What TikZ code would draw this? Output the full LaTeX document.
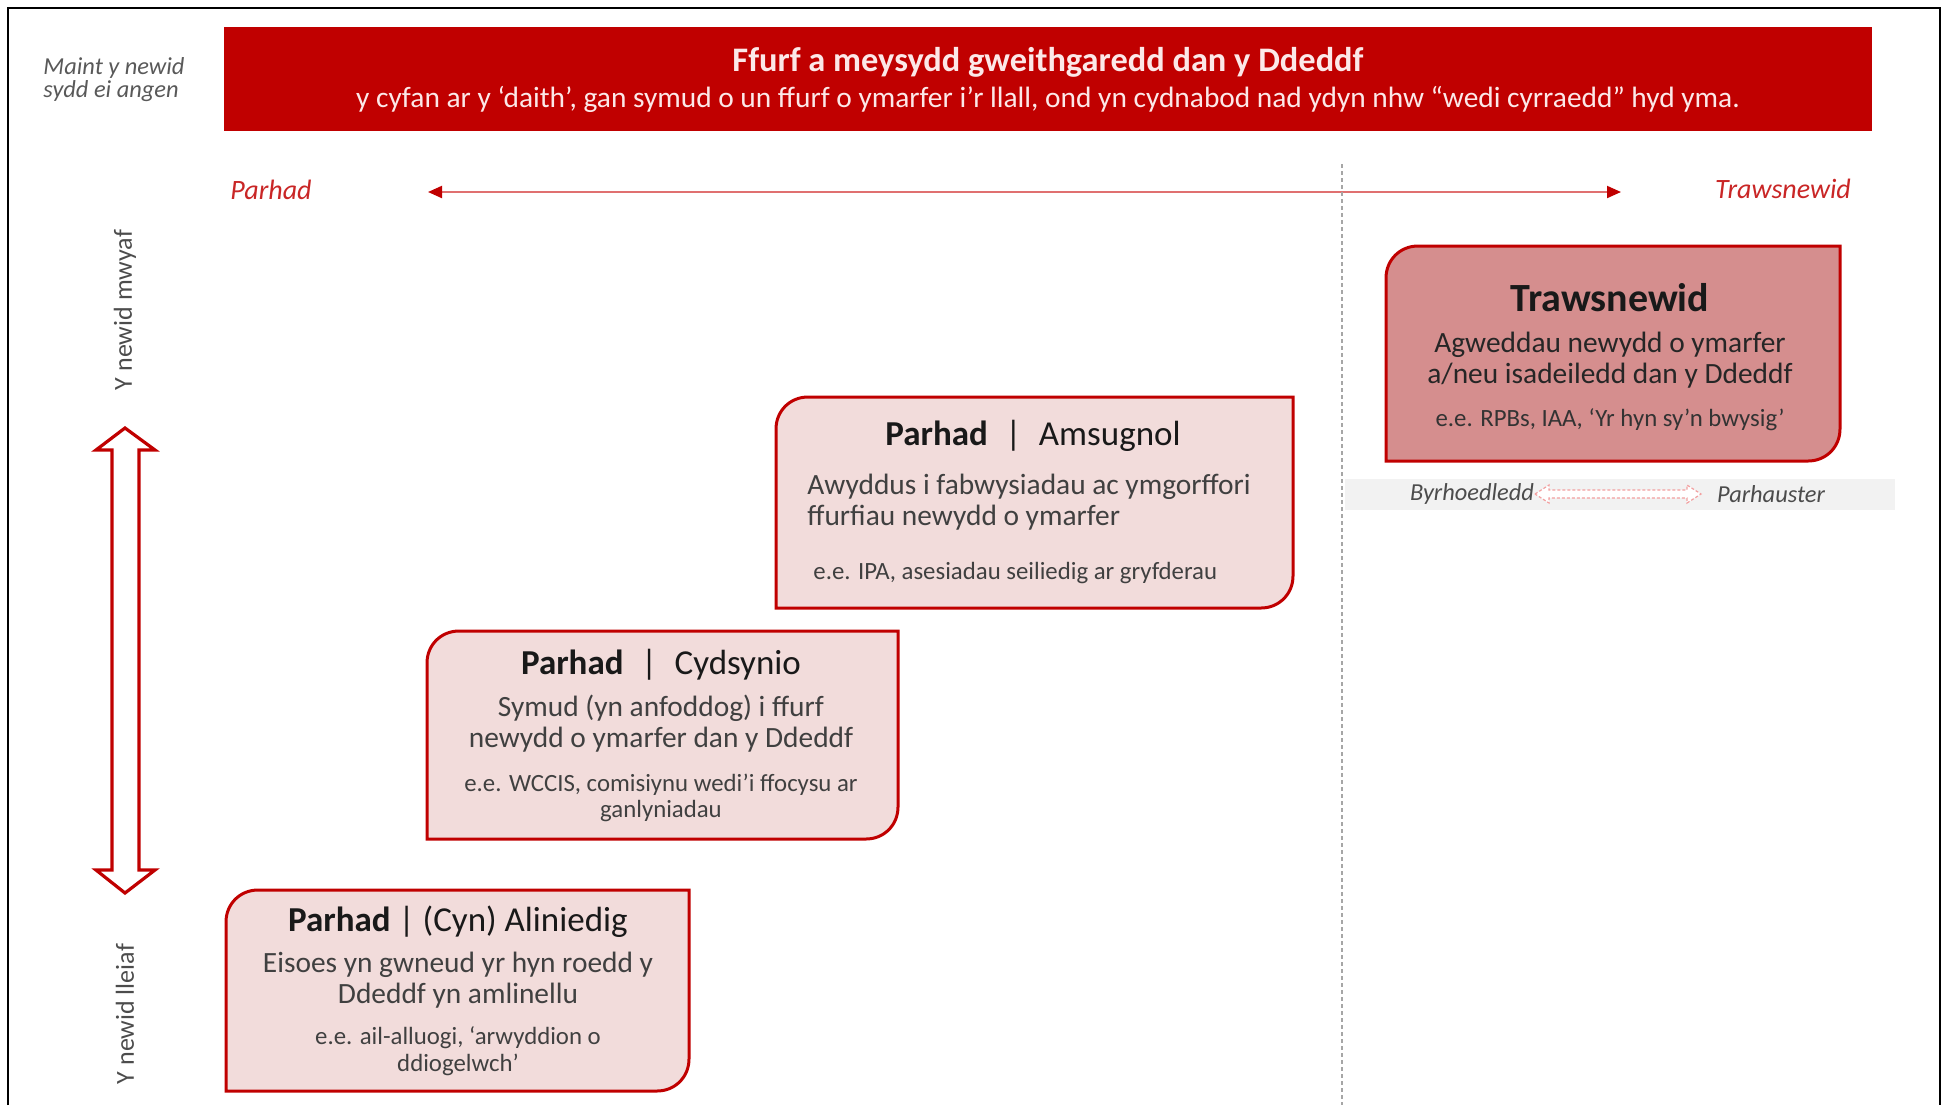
\documentclass[tikz,border=0pt]{standalone}
\usepackage{xcolor}
\usepackage{fontspec}
\setmainfont{Carlito}
\usepackage{tikz}
\usetikzlibrary{arrows.meta}

\definecolor{darkred}{RGB}{192,0,0}
\definecolor{palepink}{RGB}{242,220,219}
\definecolor{rosepink}{RGB}{213,142,142}
\definecolor{axisred}{RGB}{224,112,112}
\definecolor{bandgray}{RGB}{242,242,242}
\definecolor{dashpink}{RGB}{242,160,160}
\definecolor{bannertext}{RGB}{252,232,232}

\begin{document}
\begin{tikzpicture}[x=0.5pt,y=0.5pt,yscale=-1,xscale=1,
  boxline/.style={draw=darkred,line width=1.5pt},
  boxtitle/.style={inner sep=0pt,font=\fontsize{17.5}{21}\selectfont,text=black!90},
  boxbody/.style={inner sep=0pt,align=center,font=\fontsize{14.7}{15.5}\selectfont,text=black!75},
  boxeg/.style={inner sep=0pt,align=center,font=\fontsize{12.4}{13.3}\selectfont,text=black!75},
  axislabel/.style={inner sep=0pt,font=\fontsize{14}{16}\selectfont\itshape,text=darkred!85},
  vlabel/.style={inner sep=0pt,rotate=90,font=\fontsize{13}{15}\selectfont,text=black!70},
  bandlabel/.style={inner sep=0pt,font=\fontsize{12.2}{14}\selectfont\itshape,text=black!70},
  axisarrow/.style={draw=axisred,line width=1pt,{Triangle[color=darkred,length=7pt,width=6pt]}-{Triangle[color=darkred,length=7pt,width=6pt]}}]
\useasboundingbox (0,0) rectangle (1944,1105);
%Frame
\draw [line width=0.8pt] (8,1105) -- (8,8) -- (1940,8) -- (1940,1105) ;
%Banner
\fill [darkred] (224,27) rectangle (1872,131) ;
\node [inner sep=0pt,font=\fontsize{17.2}{20}\selectfont\bfseries,text=bannertext] (title) at (1048,62) {Ffurf a meysydd gweithgaredd dan y Ddeddf};
\node [inner sep=0pt,font=\fontsize{14.7}{17}\selectfont,text=bannertext] (subtitle) at (1048,99) {y cyfan ar y ‘daith’, gan symud o un ffurf o ymarfer i’r llall, ond yn cydnabod nad ydyn nhw “wedi cyrraedd” hyd yma.};
\node [inner sep=0pt,align=left,font=\fontsize{12.2}{11.5}\selectfont\itshape,text=black!65] (maint) at (114,80) {Maint y newid\\sydd ei angen};
%Axis
\node [axislabel] (parhadL) at (271,190) {Parhad};
\node [axislabel] (trawsL) at (1783,189) {Trawsnewid};
\coordinate (axL) at (428,192);
\coordinate (axR) at (1621,192);
\draw [axisarrow] (axL) -- (axR) ;
\coordinate (divtop) at (1342,164);
\coordinate (divbot) at (1342,1105);
\draw [black!35,line width=0.6pt,dash pattern=on 2pt off 1.5pt] (divtop) -- (divbot) ;
%Vertical arrow
\node [vlabel] (mwyaf) at (125,310) {Y newid mwyaf};
\node [vlabel] (lleiaf) at (125,1014) {Y newid lleiaf};
\draw [draw=darkred,line width=1.6pt,fill=white,line join=miter] (125,428) -- (155,450) -- (139,450) -- (139,870) -- (155,870) -- (125,893) -- (96,870) -- (112,870) -- (112,450) -- (96,450) -- cycle ;
%Trawsnewid
\draw [boxline,fill=rosepink] (1386,461) -- (1386,278) .. controls (1386,260) and (1400,246) .. (1418,246) -- (1840,246) -- (1840,429) .. controls (1840,447) and (1826,461) .. (1808,461) -- cycle ;
\node [boxtitle,font=\fontsize{20}{24}\selectfont\bfseries] (trawsT) at (1610,298) {Trawsnewid};
\node [boxbody,text=black!85] (trawsB) at (1610,360) {Agweddau newydd o ymarfer\\a/neu isadeiledd dan y Ddeddf};
\node [boxeg,text=black!80] (trawsE) at (1610,420) {e.e. RPBs, IAA, ‘Yr hyn sy’n bwysig’};
\fill [bandgray] (1345,479) rectangle (1895,510) ;
\node [bandlabel] (byr) at (1472,494) {Byrhoedledd};
\node [bandlabel] (parh) at (1771,494) {Parhauster};
\draw [draw=dashpink,fill=white,line width=0.6pt,dash pattern=on 1.5pt off 1pt] (1535,494) -- (1549,485) -- (1549,490) -- (1687,490) -- (1687,485) -- (1701,494) -- (1687,503) -- (1687,498) -- (1549,498) -- (1549,503) -- cycle ;
%Amsugnol
\draw [boxline,fill=palepink] (776,608) -- (776,429) .. controls (776,411) and (790,397) .. (808,397) -- (1293,397) -- (1293,576) .. controls (1293,594) and (1279,608) .. (1261,608) -- cycle ;
\node [boxtitle] (amsT) at (1033,436) {\textbf{Parhad}\enspace|\enspace Amsugnol};
\node [boxbody,align=left,anchor=west] (amsB) at (807,502) {Awyddus i fabwysiadau ac ymgorffori\\ffurfiau newydd o ymarfer};
\node [boxeg,anchor=west] (amsE) at (813,573) {e.e. IPA, asesiadau seiliedig ar gryfderau};
%Cydsynio
\draw [boxline,fill=palepink] (427,839) -- (427,663) .. controls (427,645) and (441,631) .. (459,631) -- (898,631) -- (898,807) .. controls (898,825) and (884,839) .. (866,839) -- cycle ;
\node [boxtitle] (cydT) at (661,665) {\textbf{Parhad}\enspace|\enspace Cydsynio};
\node [boxbody] (cydB) at (661,724) {Symud (yn anfoddog) i ffurf\\newydd o ymarfer dan y Ddeddf};
\node [boxeg] (cydE) at (661,798) {e.e. WCCIS, comisiynu wedi’i ffocysu ar\\ganlyniadau};
%Aliniedig
\draw [boxline,fill=palepink] (226,1091) -- (226,922) .. controls (226,904) and (240,890) .. (258,890) -- (689,890) -- (689,1059) .. controls (689,1077) and (675,1091) .. (657,1091) -- cycle ;
\node [boxtitle] (aliT) at (458,922) {\textbf{Parhad} | (Cyn) Aliniedig};
\node [boxbody] (aliB) at (458,980) {Eisoes yn gwneud yr hyn roedd y\\Ddeddf yn amlinellu};
\node [boxeg] (aliE) at (458,1051) {e.e. ail-alluogi, ‘arwyddion o\\ddiogelwch’};
\end{tikzpicture}
\end{document}
